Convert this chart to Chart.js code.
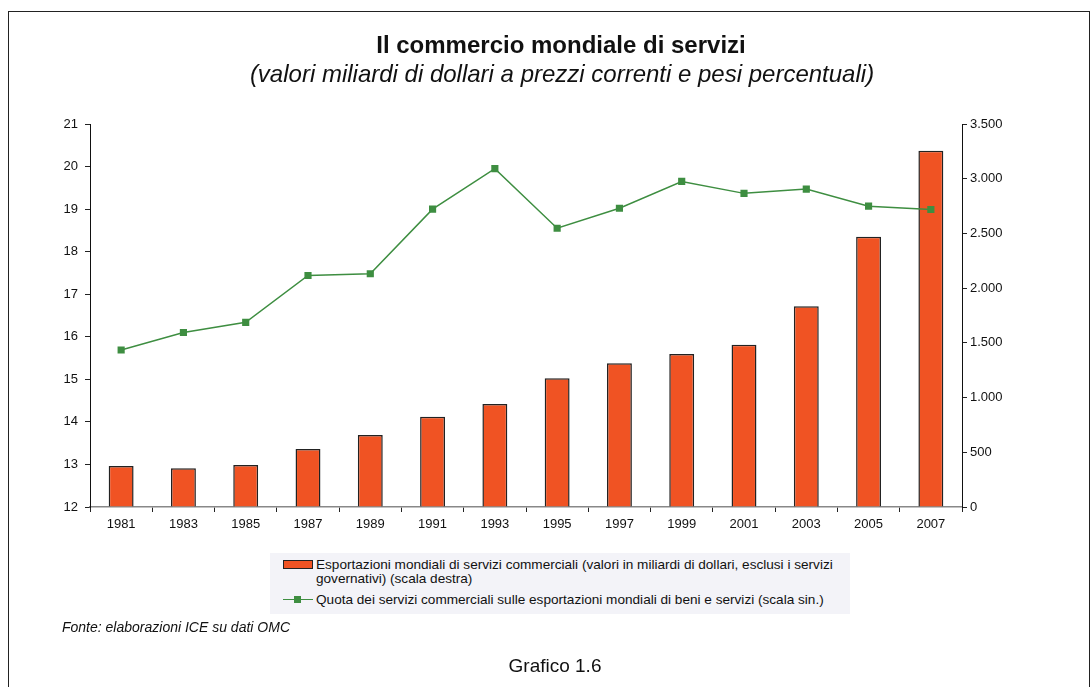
<!DOCTYPE html>
<html>
<head>
<meta charset="utf-8">
<script src="https://cdn.jsdelivr.net/npm/chart.js@4/dist/chart.umd.min.js"></script>
<style>
  body { margin: 0; background: #fff; font-family: "Liberation Sans", Arial, sans-serif; }
  #wrap { position: relative; width: 1091px; height: 687px; overflow: hidden; }
  #frame { position: absolute; left: 8px; top: 11px; width: 1080px; height: 700px; border: 1px solid #222; }
  #chart { position: absolute; left: 0; top: 0; }
  .txt { position: absolute; color: #111; white-space: nowrap; }
  #title { left: 0; width: 1122px; top: 33px; line-height: 24px; text-align: center; font-size: 24px; font-weight: bold; }
  #subtitle { left: 0; width: 1124px; top: 62px; line-height: 24px; text-align: center; font-size: 24px; font-style: italic; }
  #legend { position: absolute; left: 270px; top: 553px; width: 580px; height: 61px; background: #f3f3f8; }
  .lg { position: absolute; font-size: 13.6px; line-height: 14px; color: #111; white-space: nowrap; }
  #sw1 { position: absolute; left: 13px; top: 7px; width: 28px; height: 7px; background: #f05323; border: 1px solid #222; }
  #sw2 { position: absolute; left: 13px; top: 46px; width: 30px; height: 1px; background: #3e8e41; }
  #sw2 span { position: absolute; left: 11px; top: -3px; width: 7px; height: 7px; background: #3e8e41; }
  #fonte { left: 62px; top: 619px; font-size: 14px; font-style: italic; }
  #grafico { left: 0; width: 1110px; top: 656px; line-height: 19px; text-align: center; font-size: 19px; }
</style>
</head>
<body>
<div id="wrap">
  <div id="frame"></div>
  <canvas id="chart" width="1091" height="687"></canvas>
  <div class="txt" id="title">Il commercio mondiale di servizi</div>
  <div class="txt" id="subtitle">(valori miliardi di dollari a prezzi correnti e pesi percentuali)</div>
  <div id="legend">
    <div id="sw1"></div>
    <div class="lg" style="left:46px; top:5px;">Esportazioni mondiali di servizi commerciali (valori in miliardi di dollari, esclusi i servizi<br>governativi) (scala destra)</div>
    <div id="sw2"><span></span></div>
    <div class="lg" style="left:46px; top:40px;">Quota dei servizi commerciali sulle esportazioni mondiali di beni e servizi (scala sin.)</div>
  </div>
  <div class="txt" id="fonte">Fonte: elaborazioni ICE su dati OMC</div>
  <div class="txt" id="grafico">Grafico 1.6</div>
</div>

<script>
/* ==============================
   DATA
============================== */
const years = ['1981','1983','1985','1987','1989','1991','1993','1995','1997','1999','2001','2003','2005','2007'];
const exportValues = [375, 354, 384, 530, 658, 825, 941, 1176, 1313, 1398, 1483, 1834, 2470, 3256];
const shareValues = [15.69, 16.1, 16.34, 17.44, 17.48, 19.0, 19.95, 18.55, 19.02, 19.65, 19.37, 19.47, 19.07, 18.99];

const leftTicks = { min: 12, max: 21, step: 1 };
const rightTicks = { min: 0, max: 3500, step: 500 };

function formatThousands(v) {
    return String(v).replace(/\B(?=(\d{3})+(?!\d))/g, '.');
}

/* ==============================
   CHART
============================== */
const tickFont = { family: 'Liberation Sans, Arial, sans-serif', size: 13 };

new Chart(document.getElementById('chart').getContext('2d'), {
    data: {
        labels: years,
        datasets: [
            {
                type: 'line',
                label: 'Quota',
                data: shareValues,
                yAxisID: 'yLeft',
                borderColor: '#3e8e41',
                backgroundColor: '#3e8e41',
                borderWidth: 1.5,
                pointStyle: 'rect',
                pointRadius: 4,
                pointBorderColor: '#3e8e41',
                pointBackgroundColor: '#3e8e41',
                tension: 0,
                order: 0
            },
            {
                type: 'bar',
                label: 'Esportazioni',
                data: exportValues,
                yAxisID: 'yRight',
                backgroundColor: '#f05323',
                borderColor: '#222',
                borderWidth: 1.5,
                barPercentage: 0.4,
                categoryPercentage: 1,
                order: 1
            }
        ]
    },
    options: {
        responsive: false,
        animation: false,
        layout: { padding: { top: 124, left: 0, right: 0, bottom: 0 } },
        plugins: { legend: { display: false }, tooltip: { enabled: false } },
        scales: {
            x: {
                offset: true,
                afterFit: s => { s.height = 180; },
                grid: { offset: true, drawOnChartArea: false, drawTicks: true, tickLength: 5, color: '#222' },
                border: { color: '#888', width: 1.5 },
                ticks: { color: '#111', font: tickFont, padding: 5, maxRotation: 0 }
            },
            yLeft: {
                position: 'left',
                min: leftTicks.min,
                max: leftTicks.max,
                afterFit: s => { s.width = 90; },
                grid: { drawOnChartArea: false, tickLength: 5, color: '#222' },
                border: { color: '#111', width: 1 },
                ticks: { stepSize: leftTicks.step, color: '#111', font: tickFont, padding: 7 }
            },
            yRight: {
                position: 'right',
                min: rightTicks.min,
                max: rightTicks.max,
                afterFit: s => { s.width = 129; },
                grid: { drawOnChartArea: false, tickLength: 5, color: '#222' },
                border: { color: '#111', width: 1 },
                ticks: { stepSize: rightTicks.step, color: '#111', font: tickFont, padding: 3,
                         callback: v => formatThousands(v) }
            }
        }
    }
});
</script>
</body>
</html>
